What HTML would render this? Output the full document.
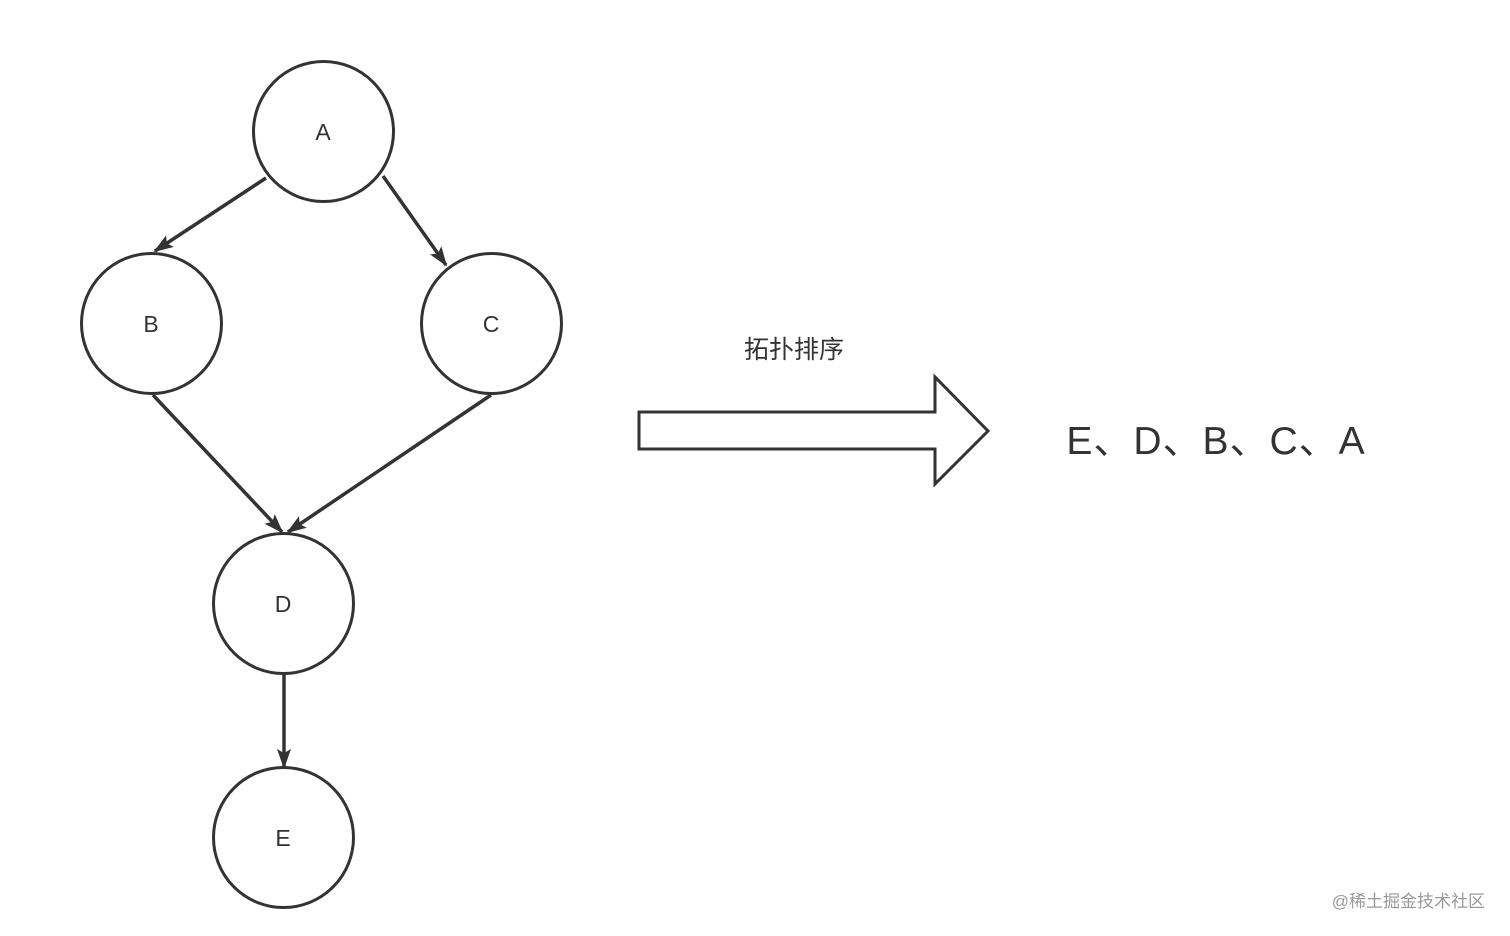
<!DOCTYPE html>
<html><head><meta charset="utf-8"><style>body{margin:0;background:#fff}</style></head>
<body>
<svg width="1510" height="936" xmlns="http://www.w3.org/2000/svg" style="display:block">
<defs>
<marker id="ah" viewBox="0 0 20 14" refX="18" refY="7" markerWidth="20" markerHeight="14" markerUnits="userSpaceOnUse" orient="auto">
<path d="M0,0 L20,7 L0,14 L4,7 Z" fill="#333"/>
</marker>
</defs>
<g fill="#fff" stroke="#333" stroke-width="3">
<circle cx="323.5" cy="131.5" r="70"/>
<circle cx="151.5" cy="323.5" r="70"/>
<circle cx="491.5" cy="323.5" r="70"/>
<circle cx="283.5" cy="603.5" r="70"/>
<circle cx="283.5" cy="837.5" r="70"/>
</g>
<g stroke="#333" stroke-width="3.5" fill="none" marker-end="url(#ah)">
<line x1="266" y1="178" x2="155" y2="251"/>
<line x1="383" y1="176" x2="446" y2="265"/>
<line x1="153" y1="395" x2="282" y2="532"/>
<line x1="491" y1="395" x2="288" y2="532"/>
<line x1="284" y1="674" x2="284" y2="767"/>
</g>
<path d="M639,412 L935,412 L935,377 L988,431 L935,484 L935,449 L639,449 Z" fill="#fff" stroke="#333" stroke-width="3"/>
<g font-family="Liberation Sans, sans-serif" fill="#333" font-size="23" text-anchor="middle">
<text x="323" y="140">A</text>
<text x="151" y="332">B</text>
<text x="491" y="332">C</text>
<text x="283" y="612">D</text>
<text x="283" y="846">E</text>
</g>
<text x="794" y="358" font-family="Liberation Sans, 'Noto Sans CJK SC', sans-serif" font-size="25" fill="#333" text-anchor="middle">拓扑排序</text>
<text x="1216" y="454" font-family="Liberation Sans, 'Noto Sans CJK SC', sans-serif" font-size="39" fill="#333" text-anchor="middle" letter-spacing="1">E、D、B、C、A</text>
<text x="1485" y="907" font-family="Liberation Sans, 'Noto Sans CJK SC', sans-serif" font-size="17" fill="#999" text-anchor="end">@稀土掘金技术社区</text>
</svg>
</body></html>
